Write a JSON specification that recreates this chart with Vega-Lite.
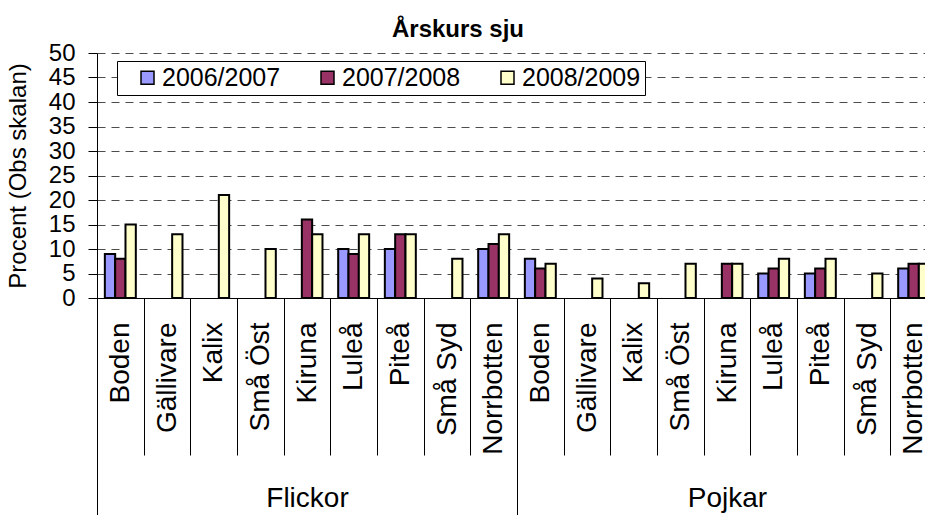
{
  "$schema": "https://vega.github.io/schema/vega-lite/v6.json",
  "autosize": {"type": "none"},
  "padding": {"left": 97, "top": 53, "right": 0, "bottom": 217},
  "width": 840,
  "height": 245,
  "background": "white",
  "title": {"text": "Årskurs sju", "fontSize": 24, "fontWeight": "bold", "font": "Liberation Sans", "color": "black", "anchor": "middle", "dx": -59, "offset": -20, "baseline": "alphabetic"},
  "config": {
    "font": "Liberation Sans",
    "view": {"stroke": null},
    "axis": {"labelColor": "black", "titleColor": "black", "domainColor": "black", "tickColor": "black"},
    "legend": {"strokeWidth": 1}
  },
  "data": {"values": [
    {"group": "Flickor", "city": "Boden", "key": "Flickor|Boden", "year": "2006/2007", "value": 9},
    {"group": "Flickor", "city": "Boden", "key": "Flickor|Boden", "year": "2007/2008", "value": 8},
    {"group": "Flickor", "city": "Boden", "key": "Flickor|Boden", "year": "2008/2009", "value": 15},
    {"group": "Flickor", "city": "Gällivare", "key": "Flickor|Gällivare", "year": "2008/2009", "value": 13},
    {"group": "Flickor", "city": "Kalix", "key": "Flickor|Kalix", "year": "2008/2009", "value": 21},
    {"group": "Flickor", "city": "Små Öst", "key": "Flickor|Små Öst", "year": "2008/2009", "value": 10},
    {"group": "Flickor", "city": "Kiruna", "key": "Flickor|Kiruna", "year": "2007/2008", "value": 16},
    {"group": "Flickor", "city": "Kiruna", "key": "Flickor|Kiruna", "year": "2008/2009", "value": 13},
    {"group": "Flickor", "city": "Luleå", "key": "Flickor|Luleå", "year": "2006/2007", "value": 10},
    {"group": "Flickor", "city": "Luleå", "key": "Flickor|Luleå", "year": "2007/2008", "value": 9},
    {"group": "Flickor", "city": "Luleå", "key": "Flickor|Luleå", "year": "2008/2009", "value": 13},
    {"group": "Flickor", "city": "Piteå", "key": "Flickor|Piteå", "year": "2006/2007", "value": 10},
    {"group": "Flickor", "city": "Piteå", "key": "Flickor|Piteå", "year": "2007/2008", "value": 13},
    {"group": "Flickor", "city": "Piteå", "key": "Flickor|Piteå", "year": "2008/2009", "value": 13},
    {"group": "Flickor", "city": "Små Syd", "key": "Flickor|Små Syd", "year": "2008/2009", "value": 8},
    {"group": "Flickor", "city": "Norrbotten", "key": "Flickor|Norrbotten", "year": "2006/2007", "value": 10},
    {"group": "Flickor", "city": "Norrbotten", "key": "Flickor|Norrbotten", "year": "2007/2008", "value": 11},
    {"group": "Flickor", "city": "Norrbotten", "key": "Flickor|Norrbotten", "year": "2008/2009", "value": 13},
    {"group": "Pojkar", "city": "Boden", "key": "Pojkar|Boden", "year": "2006/2007", "value": 8},
    {"group": "Pojkar", "city": "Boden", "key": "Pojkar|Boden", "year": "2007/2008", "value": 6},
    {"group": "Pojkar", "city": "Boden", "key": "Pojkar|Boden", "year": "2008/2009", "value": 7},
    {"group": "Pojkar", "city": "Gällivare", "key": "Pojkar|Gällivare", "year": "2008/2009", "value": 4},
    {"group": "Pojkar", "city": "Kalix", "key": "Pojkar|Kalix", "year": "2008/2009", "value": 3},
    {"group": "Pojkar", "city": "Små Öst", "key": "Pojkar|Små Öst", "year": "2008/2009", "value": 7},
    {"group": "Pojkar", "city": "Kiruna", "key": "Pojkar|Kiruna", "year": "2007/2008", "value": 7},
    {"group": "Pojkar", "city": "Kiruna", "key": "Pojkar|Kiruna", "year": "2008/2009", "value": 7},
    {"group": "Pojkar", "city": "Luleå", "key": "Pojkar|Luleå", "year": "2006/2007", "value": 5},
    {"group": "Pojkar", "city": "Luleå", "key": "Pojkar|Luleå", "year": "2007/2008", "value": 6},
    {"group": "Pojkar", "city": "Luleå", "key": "Pojkar|Luleå", "year": "2008/2009", "value": 8},
    {"group": "Pojkar", "city": "Piteå", "key": "Pojkar|Piteå", "year": "2006/2007", "value": 5},
    {"group": "Pojkar", "city": "Piteå", "key": "Pojkar|Piteå", "year": "2007/2008", "value": 6},
    {"group": "Pojkar", "city": "Piteå", "key": "Pojkar|Piteå", "year": "2008/2009", "value": 8},
    {"group": "Pojkar", "city": "Små Syd", "key": "Pojkar|Små Syd", "year": "2008/2009", "value": 5},
    {"group": "Pojkar", "city": "Norrbotten", "key": "Pojkar|Norrbotten", "year": "2006/2007", "value": 6},
    {"group": "Pojkar", "city": "Norrbotten", "key": "Pojkar|Norrbotten", "year": "2007/2008", "value": 7},
    {"group": "Pojkar", "city": "Norrbotten", "key": "Pojkar|Norrbotten", "year": "2008/2009", "value": 7}
  ]},
  "layer": [
    {
      "mark": {"type": "bar", "stroke": "black", "strokeWidth": 2},
      "encoding": {
        "x": {
          "field": "key", "type": "nominal", "sort": null,
          "scale": {"paddingInner": 0, "paddingOuter": 0},
          "axis": {
            "title": null, "orient": "bottom",
            "labelExpr": "substring(datum.label, indexof(datum.label, '|') + 1)",
            "labelAngle": -90, "labelAlign": "right", "labelBaseline": "middle",
            "labelFontSize": 28, "labelPadding": -133, "labelLimit": 300,
            "tickBand": "extent", "tickSize": 157, "tickWidth": 1,
            "domainWidth": 1, "grid": false
          }
        },
        "xOffset": {
          "field": "year", "type": "nominal",
          "scale": {"domain": ["2006/2007", "2007/2008", "2008/2009"], "paddingInner": 0, "paddingOuter": 0.76}
        },
        "y": {
          "field": "value", "type": "quantitative",
          "scale": {"domain": [0, 50], "nice": false},
          "axis": {
            "title": "Procent (Obs skalan)", "titleFontSize": 24, "titleFontWeight": "normal", "titlePadding": 18,
            "values": [0, 5, 10, 15, 20, 25, 30, 35, 40, 45, 50],
            "labelFontSize": 24, "labelPadding": 13, "tickSize": 9,
            "grid": true, "gridColor": "#4d4d4d", "gridDash": [8, 6], "gridWidth": 1.2
          }
        },
        "color": {
          "field": "year", "type": "nominal",
          "scale": {"domain": ["2006/2007", "2007/2008", "2008/2009"], "range": ["#9999FF", "#993366", "#FFFFCC"]},
          "legend": {
            "title": null, "orient": "none", "legendX": 20, "legendY": 8, "direction": "horizontal",
            "fillColor": "white", "strokeColor": "black", "padding": 4,
            "labelFontSize": 25, "labelColor": "black", "symbolType": "square", "symbolSize": 169,
            "symbolStrokeColor": "black", "symbolStrokeWidth": 1.5, "symbolOpacity": 1,
            "symbolOffset": 14, "labelOffset": 2, "columnPadding": 20
          }
        }
      }
    },
    {
      "mark": {"type": "point", "opacity": 0},
      "encoding": {
        "x": {
          "field": "group", "type": "nominal",
          "scale": {"type": "band", "paddingInner": 0, "paddingOuter": 0},
          "axis": {
            "title": null, "orient": "bottom", "domain": false, "grid": false,
            "labelAngle": 0, "labelFontSize": 28, "labelBaseline": "top", "labelPadding": -31,
            "tickBand": "extent", "tickSize": 217, "tickWidth": 1
          }
        }
      }
    }
  ],
  "resolve": {"scale": {"x": "independent"}, "axis": {"x": "independent"}}
}
